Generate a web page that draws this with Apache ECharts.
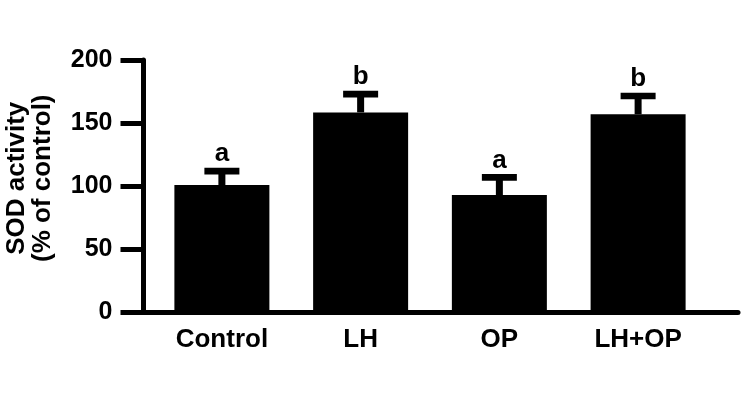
<!DOCTYPE html>
<html>
<head>
<meta charset="utf-8">
<script src="https://cdn.jsdelivr.net/npm/echarts@6/dist/echarts.min.js"></script>
<style>
  html, body { margin: 0; padding: 0; background: #fff; }
  #chart { width: 745px; height: 400px; }
</style>
</head>
<body>
<div id="chart"></div>
<script>
// data
const categories = ['Control', 'LH', 'OP', 'LH+OP'];
const means = [101, 158.5, 93, 157];
const errors = [11, 14.5, 14, 14.5];
const letters = ['a', 'b', 'a', 'b'];
const yTicks = [0, 50, 100, 150, 200];

const chart = echarts.init(document.getElementById('chart'));
const font = '"Liberation Sans", Arial, sans-serif';

const option = {
  animation: false,
  textStyle: { fontFamily: font, color: '#000' },
  grid: { left: 143.5, right: 7, top: 60, bottom: 87.5, containLabel: false, outerBoundsMode: 'none' },
  xAxis: {
    type: 'value',
    min: -0.565,
    max: 3.72,
    splitLine: { show: false },
    axisLine: { onZero: false, lineStyle: { color: '#000', width: 5 } },
    axisTick: { show: false },
    axisLabel: {
      customValues: [0, 1, 2, 3],
      formatter: v => categories[Math.round(v)],
      color: '#000',
      fontSize: 26,
      fontWeight: 'bold',
      margin: 14
    }
  },
  yAxis: {
    type: 'value',
    min: yTicks[0],
    max: yTicks[yTicks.length - 1],
    interval: 50,
    name: 'SOD activity\n(% of control)',
    nameLocation: 'middle',
    nameGap: 88,
    nameTextStyle: {
      color: '#000',
      fontSize: 26,
      fontWeight: 'bold',
      lineHeight: 26,
      padding: [0, 0, 0, 16]
    },
    splitLine: { show: false },
    axisLine: { show: true, onZero: false, lineStyle: { color: '#000', width: 5 } },
    axisTick: { show: true, length: 23, lineStyle: { color: '#000', width: 5 } },
    axisLabel: { color: '#000', fontSize: 25, fontWeight: 'bold', margin: 31 }
  },
  series: [
    {
      type: 'bar',
      barWidth: 95,
      itemStyle: { color: '#000' },
      data: means.map((v, i) => [i, v])
    },
    {
      type: 'custom',
      data: means.map((v, i) => [i, v, errors[i]]),
      renderItem: function (params, api) {
        const i = api.value(0);
        const base = api.coord([i, api.value(1)]);
        const top = api.coord([i, api.value(1) + api.value(2)]);
        return {
          type: 'group',
          children: [
            { type: 'rect', shape: { x: top[0] - 3.5, y: top[1], width: 7, height: base[1] - top[1] }, style: { fill: '#000' } },
            { type: 'rect', shape: { x: top[0] - 17.5, y: top[1] - 3.3, width: 35, height: 6.6 }, style: { fill: '#000' } },
            {
              type: 'text',
              x: top[0],
              y: top[1] - 4,
              style: {
                text: letters[params.dataIndex],
                fill: '#000',
                font: 'bold 26px ' + font,
                textAlign: 'center',
                textVerticalAlign: 'bottom'
              }
            }
          ]
        };
      }
    }
  ]
};

chart.setOption(option);
</script>
</body>
</html>
